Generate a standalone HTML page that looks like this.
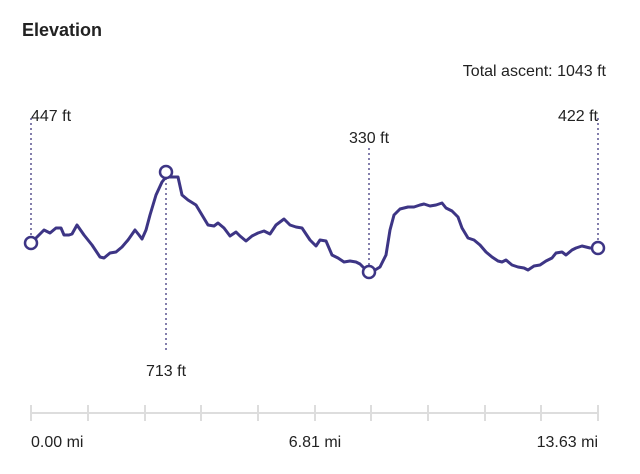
<!DOCTYPE html><html><head><style>body{margin:0;background:#fff}svg{display:block;font-family:"Liberation Sans","DejaVu Sans",sans-serif}</style></head><body>
<svg width="640" height="474" viewBox="0 0 640 474">
<text x="22" y="36" font-size="18" font-weight="bold" fill="#222">Elevation</text>
<text x="606" y="76" font-size="16" text-anchor="end" fill="#222">Total ascent: 1043 ft</text>
<g stroke="#5a5490" stroke-width="1.5" stroke-dasharray="2,3">
<line x1="31" y1="118" x2="31" y2="238"/><line x1="166" y1="178" x2="166" y2="352"/><line x1="369" y1="148" x2="369" y2="266"/><line x1="598" y1="118" x2="598" y2="242"/></g>
<g font-size="16" fill="#222">
<text x="31" y="121">447 ft</text><text x="166" y="376" text-anchor="middle">713 ft</text><text x="369" y="143" text-anchor="middle">330 ft</text><text x="598" y="121" text-anchor="end">422 ft</text></g>
<polyline fill="none" stroke="#3d3585" stroke-width="3" stroke-linejoin="round" stroke-linecap="round" points="31,243 37,237 44,230 50,233 56,228 61,228 64,235 69,235 72,234 77,225 84,235 92,245 100,257 104,258 110,253 116,252 122,247 128,240 135,230 139,235 142,239 146,230 150,215 156,195 162,182 166,177 172,177 178,177 182,195 188,200 196,205 202,215 208,225 214,226 218,223 224,228 230,236 236,232 240,236 246,241 252,236 258,233 264,231 270,234 276,225 284,219 290,225 296,227 302,228 310,240 316,246 320,240 326,241 332,255 338,258 344,262 350,261 356,262 360,264 366,270 369,272 375,270 380,267 386,255 390,230 394,215 400,209 408,207 414,207 420,205 424,204 430,206 436,205 442,203 446,208 452,211 458,217 462,228 468,238 474,240 480,245 486,252 492,257 498,261 502,262 506,260 512,265 518,267 524,268 528,270 534,266 540,265 546,261 552,258 556,253 562,252 566,255 572,250 576,248 582,246 586,247 590,248 598,248"/>
<g fill="#fff" stroke="#3d3585" stroke-width="2.5"><circle cx="31" cy="243" r="6"/><circle cx="166" cy="172" r="6"/><circle cx="369" cy="272" r="6"/><circle cx="598" cy="248" r="6"/></g>
<g stroke="#ddd" stroke-width="2"><line x1="31" y1="413" x2="598" y2="413"/>
<line x1="31" y1="405" x2="31" y2="421"/><line x1="88" y1="405" x2="88" y2="421"/><line x1="145" y1="405" x2="145" y2="421"/><line x1="201" y1="405" x2="201" y2="421"/><line x1="258" y1="405" x2="258" y2="421"/><line x1="315" y1="405" x2="315" y2="421"/><line x1="371" y1="405" x2="371" y2="421"/><line x1="428" y1="405" x2="428" y2="421"/><line x1="485" y1="405" x2="485" y2="421"/><line x1="541" y1="405" x2="541" y2="421"/><line x1="598" y1="405" x2="598" y2="421"/></g>
<g font-size="16" fill="#222"><text x="31" y="447">0.00 mi</text><text x="315" y="447" text-anchor="middle">6.81 mi</text><text x="598" y="447" text-anchor="end">13.63 mi</text></g>
</svg></body></html>
